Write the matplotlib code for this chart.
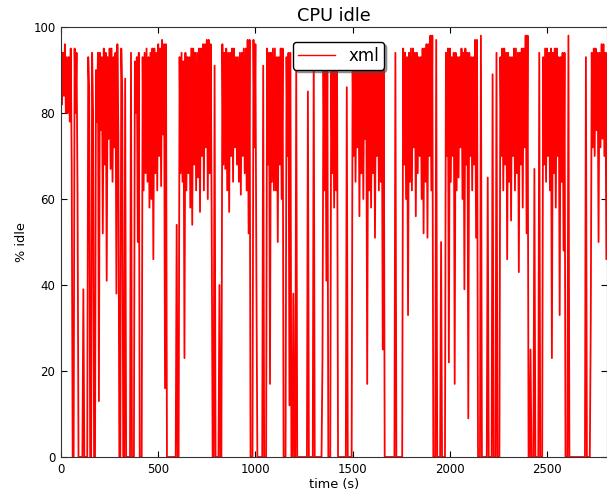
"""
CPU idle over time, single red trace ("xml"), classic inward-tick look.
"""

import numpy as np
import matplotlib
matplotlib.use("Agg")
import matplotlib.pyplot as plt

SAMPLE_STEP_S = 5  # one reading every 5 seconds

# % idle (20 readings per row = 100 s)
idle_pct = [
    97, 82, 94, 84, 96, 80, 93, 80, 93, 78, 95, 68, 0, 0, 95, 80, 94, 62, 0, 0,
    0, 0, 0, 39, 0, 0, 0, 0, 93, 85, 0, 0, 94, 80, 0, 0, 90, 78, 94, 13,
    94, 76, 93, 52, 95, 68, 94, 41, 93, 74, 95, 67, 95, 64, 93, 72, 94, 38, 96, 75,
    0, 0, 95, 84, 0, 0, 88, 0, 0, 0, 0, 0, 94, 0, 0, 0, 92, 80, 93, 50,
    94, 0, 0, 0, 93, 62, 94, 66, 95, 64, 93, 58, 94, 60, 95, 46, 95, 66, 94, 62,
    96, 70, 95, 63, 97, 75, 96, 16, 96, 0, 0, 0, 0, 0, 0, 0, 0, 0, 0, 54,
    0, 0, 93, 66, 94, 64, 92, 23, 94, 62, 93, 66, 93, 58, 95, 54, 95, 68, 94, 62,
    94, 65, 95, 57, 95, 70, 96, 62, 96, 72, 97, 60, 97, 66, 96, 55, 0, 0, 91, 0,
    0, 0, 0, 40, 0, 0, 96, 68, 94, 67, 95, 62, 94, 57, 94, 70, 95, 64, 95, 72,
    93, 68, 93, 64, 94, 61, 94, 70, 95, 66, 95, 62, 97, 52, 97, 0, 0, 0, 97, 72,
    96, 43, 0, 0, 0, 0, 0, 0, 91, 0, 0, 0, 95, 68, 94, 17, 94, 64, 95, 62,
    95, 62, 93, 50, 93, 68, 95, 60, 95, 0, 0, 0, 93, 70, 94, 12, 94, 0, 0, 38,
    0, 0, 91, 0, 0, 0, 0, 0, 0, 0, 0, 0, 0, 0, 85, 0, 0, 0, 0, 0,
    95, 0, 0, 0, 0, 0, 0, 0, 0, 23, 92, 62, 93, 41, 93, 0, 0, 0, 92, 66,
    93, 58, 93, 62, 90, 0, 0, 0, 0, 0, 0, 0, 0, 0, 86, 0, 0, 0, 0, 0,
    92, 70, 93, 64, 93, 72, 92, 56, 92, 66, 93, 60, 93, 74, 92, 17, 92, 62, 93, 58,
    93, 66, 92, 51, 92, 70, 93, 62, 93, 64, 92, 25, 92, 0, 0, 0, 0, 0, 0, 0,
    0, 0, 0, 0, 94, 0, 0, 0, 0, 0, 0, 0, 95, 68, 94, 60, 93, 33, 94, 64,
    95, 62, 95, 72, 94, 56, 94, 66, 93, 70, 93, 60, 95, 52, 95, 64, 96, 51, 96, 70,
    98, 62, 98, 0, 0, 0, 97, 0, 0, 0, 0, 50, 0, 0, 0, 0, 94, 70, 95, 22,
    95, 64, 93, 70, 94, 17, 94, 62, 93, 65, 93, 72, 95, 60, 94, 39, 95, 68, 94, 9,
    94, 70, 93, 62, 93, 68, 97, 51, 97, 0, 0, 0, 98, 0, 0, 0, 0, 0, 0, 65,
    0, 0, 0, 0, 89, 0, 0, 0, 94, 0, 0, 0, 93, 70, 95, 62, 95, 68, 94, 46,
    94, 64, 93, 55, 93, 70, 95, 62, 95, 66, 94, 43, 94, 68, 95, 58, 95, 72, 98, 52,
    98, 0, 0, 25, 0, 0, 0, 67, 0, 0, 0, 0, 94, 0, 0, 0, 93, 68, 95, 64,
    95, 70, 94, 62, 95, 23, 94, 66, 95, 58, 95, 70, 93, 33, 93, 64, 94, 48, 94, 0,
    0, 0, 98, 0, 0, 0, 0, 0, 0, 0, 0, 0, 0, 0, 0, 0, 0, 0, 0, 0,
    93, 0, 0, 0, 0, 32, 94, 72, 95, 70, 95, 76, 94, 50, 94, 72, 96, 74, 96, 70,
    94, 46, 94, 78,
]
time_s = np.arange(len(idle_pct)) * SAMPLE_STEP_S

fig = plt.figure(figsize=(6.07, 4.92), dpi=100)
ax = fig.add_axes([0.1005, 0.0711, 0.9, 0.874])

ax.plot(time_s, idle_pct, color="#ff0000", linewidth=1.3, label="xml")

ax.set_xlim(0, 2810)
ax.set_ylim(0, 100)
ax.set_xticks([0, 500, 1000, 1500, 2000, 2500])
ax.set_yticks([0, 20, 40, 60, 80, 100])
ax.tick_params(direction="in", top=True, right=True, labelsize=8.5, length=4, pad=4)
for spine in ax.spines.values():
    spine.set_color("#333333")

ax.set_title("CPU idle", fontsize=12.8, pad=4)
ax.set_xlabel("time (s)", fontsize=9.3, labelpad=2)
ax.set_ylabel("% idle", fontsize=9.3, labelpad=4)

leg = ax.legend(loc="upper center", bbox_to_anchor=(0.508, 0.985), fontsize=12,
                shadow=True, fancybox=True, handlelength=2.2, borderpad=0.3,
                framealpha=1.0)
leg.get_frame().set_edgecolor("black")
for line in leg.get_lines():
    line.set_linewidth(1.0)

fig.savefig("out.png", dpi=100)
